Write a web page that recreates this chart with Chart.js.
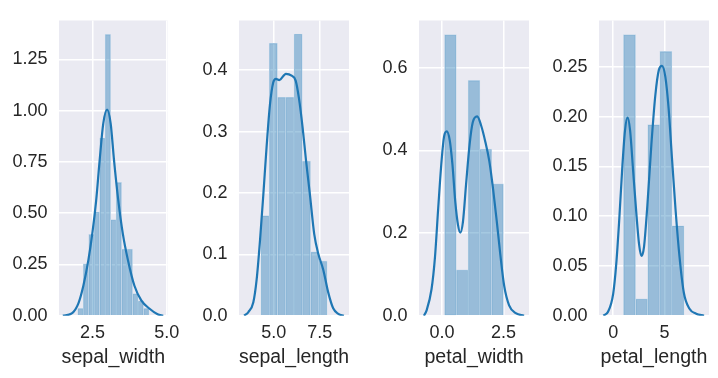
<!DOCTYPE html>
<html><head><meta charset="utf-8">
<script src="https://cdn.jsdelivr.net/npm/chart.js@4"></script>
<style>
html,body{margin:0;padding:0;background:#fff;}
#wrap{position:relative;width:718px;height:378px;overflow:hidden;background:#fff;}
canvas{position:absolute;top:0;}
</style></head><body>
<div id="wrap">
<canvas id="c1" width="200" height="378" style="left:0px"></canvas>
<canvas id="c2" width="200" height="378" style="left:175px"></canvas>
<canvas id="c3" width="200" height="378" style="left:355px"></canvas>
<canvas id="c4" width="183" height="378" style="left:535px"></canvas>
</div>
<script>
// ---- sepal_width ----
const SW_EDGES   = [2.0, 2.185, 2.369, 2.554, 2.738, 2.923, 3.108, 3.292, 3.477, 3.662, 3.846, 4.031, 4.215, 4.4];
const SW_DENSITY = [0.036, 0.253, 0.397, 0.506, 0.867, 1.372, 0.469, 0.650, 0.325, 0.325, 0.108, 0.072, 0.036];
const SW_KDE_X   = [1.50, 1.80, 2.02, 2.19, 2.36, 2.50, 2.62, 2.74, 2.86, 2.99, 3.11, 3.22, 3.36, 3.52, 3.69, 3.91, 4.14, 4.41, 4.69, 4.88];
const SW_KDE_Y   = [0.000, 0.011, 0.059, 0.146, 0.272, 0.410, 0.560, 0.760, 0.937, 1.005, 0.937, 0.763, 0.570, 0.399, 0.272, 0.146, 0.075, 0.035, 0.007, 0.000];
const SW_XTICKS  = ['2.5', '5.0'];
const SW_YTICKS  = ['0.00', '0.25', '0.50', '0.75', '1.00', '1.25'];

// ---- sepal_length ----
const SL_EDGES   = [4.3, 4.75, 5.2, 5.65, 6.1, 6.55, 7.0, 7.45, 7.9];
const SL_DENSITY = [0.163, 0.444, 0.356, 0.356, 0.459, 0.252, 0.104, 0.089];
const SL_KDE_X   = [3.39, 3.62, 3.89, 4.07, 4.25, 4.43, 4.61, 4.79, 4.97, 5.12, 5.30, 5.66, 5.97, 6.19, 6.37, 6.57, 6.75, 6.97, 7.20, 7.42, 7.69, 7.96, 8.23, 8.51, 8.81];
const SL_KDE_Y   = [0.000, 0.006, 0.022, 0.059, 0.122, 0.196, 0.275, 0.343, 0.380, 0.386, 0.384, 0.394, 0.391, 0.383, 0.354, 0.306, 0.254, 0.196, 0.133, 0.101, 0.075, 0.038, 0.012, 0.003, 0.000];
const SL_XTICKS  = ['5.0', '7.5'];
const SL_YTICKS  = ['0.0', '0.1', '0.2', '0.3', '0.4'];

// ---- petal_width ----
const PW_EDGES   = [0.1, 0.58, 1.06, 1.54, 2.02, 2.5];
const PW_DENSITY = [0.680, 0.111, 0.569, 0.403, 0.319];
const PW_KDE_X   = [-0.74, -0.63, -0.43, -0.29, -0.16, -0.02, 0.08, 0.19, 0.31, 0.42, 0.54, 0.65, 0.74, 0.85, 0.98, 1.12, 1.25, 1.43, 1.59, 1.76, 1.92, 2.08, 2.23, 2.37, 2.53, 2.73, 3.00, 3.34];
const PW_KDE_Y   = [0.000, 0.013, 0.064, 0.141, 0.258, 0.375, 0.433, 0.446, 0.425, 0.367, 0.274, 0.219, 0.201, 0.227, 0.320, 0.414, 0.468, 0.482, 0.460, 0.421, 0.375, 0.305, 0.227, 0.149, 0.072, 0.025, 0.006, 0.000];
const PW_XTICKS  = ['0.0', '2.5'];
const PW_YTICKS  = ['0.0', '0.2', '0.4', '0.6'];

// ---- petal_length ----
const PL_EDGES   = [1.0, 2.18, 3.36, 4.54, 5.72, 6.9];
const PL_DENSITY = [0.2825, 0.0169, 0.192, 0.2655, 0.0904];
const PL_KDE_X   = [-0.95, -0.50, 0.00, 0.30, 0.60, 0.90, 1.15, 1.40, 1.65, 1.94, 2.27, 2.52, 2.75, 3.00, 3.33, 3.72, 4.10, 4.45, 4.75, 5.08, 5.40, 5.72, 6.07, 6.46, 6.88, 7.43, 8.08, 8.85];
const PL_KDE_Y   = [0.000, 0.004, 0.022, 0.052, 0.098, 0.151, 0.186, 0.199, 0.186, 0.146, 0.101, 0.072, 0.060, 0.069, 0.111, 0.172, 0.221, 0.247, 0.251, 0.240, 0.208, 0.159, 0.107, 0.059, 0.023, 0.007, 0.002, 0.000];
const PL_XTICKS  = ['0', '5'];
const PL_YTICKS  = ['0.00', '0.05', '0.10', '0.15', '0.20', '0.25'];

const FONT = '"Liberation Sans", Arial, Helvetica, sans-serif';
const TEXT = '#262626';

const PANELS = [
  {id:'c1', label:'sepal_width',  edges:SW_EDGES, density:SW_DENSITY, kx:SW_KDE_X, ky:SW_KDE_Y, xt:SW_XTICKS, yt:SW_YTICKS,
   xMin:1.37, xMax:5.03, yMax:1.44, yW:59, padR:32.3},
  {id:'c2', label:'sepal_length', edges:SL_EDGES, density:SL_DENSITY, kx:SL_KDE_X, ky:SL_KDE_Y, xt:SL_XTICKS, yt:SL_YTICKS,
   xMin:3.11, xMax:9.09, yMax:0.481, yW:64, padR:26},
  {id:'c3', label:'petal_width',  edges:PW_EDGES, density:PW_DENSITY, kx:PW_KDE_X, ky:PW_KDE_Y, xt:PW_XTICKS, yt:PW_YTICKS,
   xMin:-0.94, xMax:3.54, yMax:0.714, yW:64, padR:26},
  {id:'c4', label:'petal_length', edges:PL_EDGES, density:PL_DENSITY, kx:PL_KDE_X, ky:PL_KDE_Y, xt:PL_XTICKS, yt:PL_YTICKS,
   xMin:-1.38, xMax:9.33, yMax:0.2966, yW:64, padR:9}
];

const bgPlugin = {
  id:'bgArea',
  beforeDraw(chart){
    const {ctx, chartArea:a} = chart;
    ctx.save();
    ctx.fillStyle = '#EAEAF2';
    ctx.fillRect(a.left, a.top, a.right - a.left, a.bottom - a.top);
    ctx.restore();
  }
};

function makeChart(p){
  const centers = p.edges.slice(0, -1).map((e, i) => (e + p.edges[i + 1]) / 2);
  const bars = centers.map((c, i) => ({x:c, y:p.density[i]}));
  const kde = p.kx.map((x, i) => ({x:x, y:p.ky[i]}));
  new Chart(document.getElementById(p.id), {
    type:'bar',
    data:{datasets:[
      {type:'line', data:kde, borderColor:'#1f77b4', borderWidth:2.2, pointRadius:0,
       cubicInterpolationMode:'monotone', fill:false, order:0},
      {type:'bar', data:bars, backgroundColor:'rgba(31,119,180,0.4)', borderColor:'rgb(196,216,234)',
       borderWidth:0.7, barPercentage:1, categoryPercentage:1, order:1}
    ]},
    options:{
      responsive:false, animation:false, devicePixelRatio:1,
      layout:{padding:{left:0, top:11, right:p.padR, bottom:0}},
      plugins:{legend:{display:false}, tooltip:{enabled:false}},
      scales:{
        x:{type:'linear', min:p.xMin, max:p.xMax, offset:false,
           afterBuildTicks:s => { s.ticks = p.xt.map(t => ({value:parseFloat(t)})); },
           afterFit:s => { s.height = 62.3; },
           ticks:{autoSkip:false, maxRotation:0, minRotation:0, padding:8.4, color:TEXT,
                  font:{family:FONT, size:18, lineHeight:1}, callback:(v, i) => p.xt[i]},
           grid:{color:'#ffffff', lineWidth:1.5, drawTicks:false, offset:false},
           border:{display:false},
           title:{display:true, text:p.label, color:TEXT, font:{family:FONT, size:19.6, lineHeight:1},
                  padding:{top:0, bottom:11}}
        },
        y:{type:'linear', min:0, max:p.yMax,
           afterBuildTicks:s => { s.ticks = p.yt.map(t => ({value:parseFloat(t)})); },
           afterFit:s => { s.width = p.yW; },
           ticks:{padding:11.5, color:TEXT, font:{family:FONT, size:18, lineHeight:1}, callback:(v, i) => p.yt[i]},
           grid:{color:'#ffffff', lineWidth:1.5, drawTicks:false},
           border:{display:false}
        }
      }
    },
    plugins:[bgPlugin]
  });
}

PANELS.forEach(makeChart);
</script>
</body></html>
